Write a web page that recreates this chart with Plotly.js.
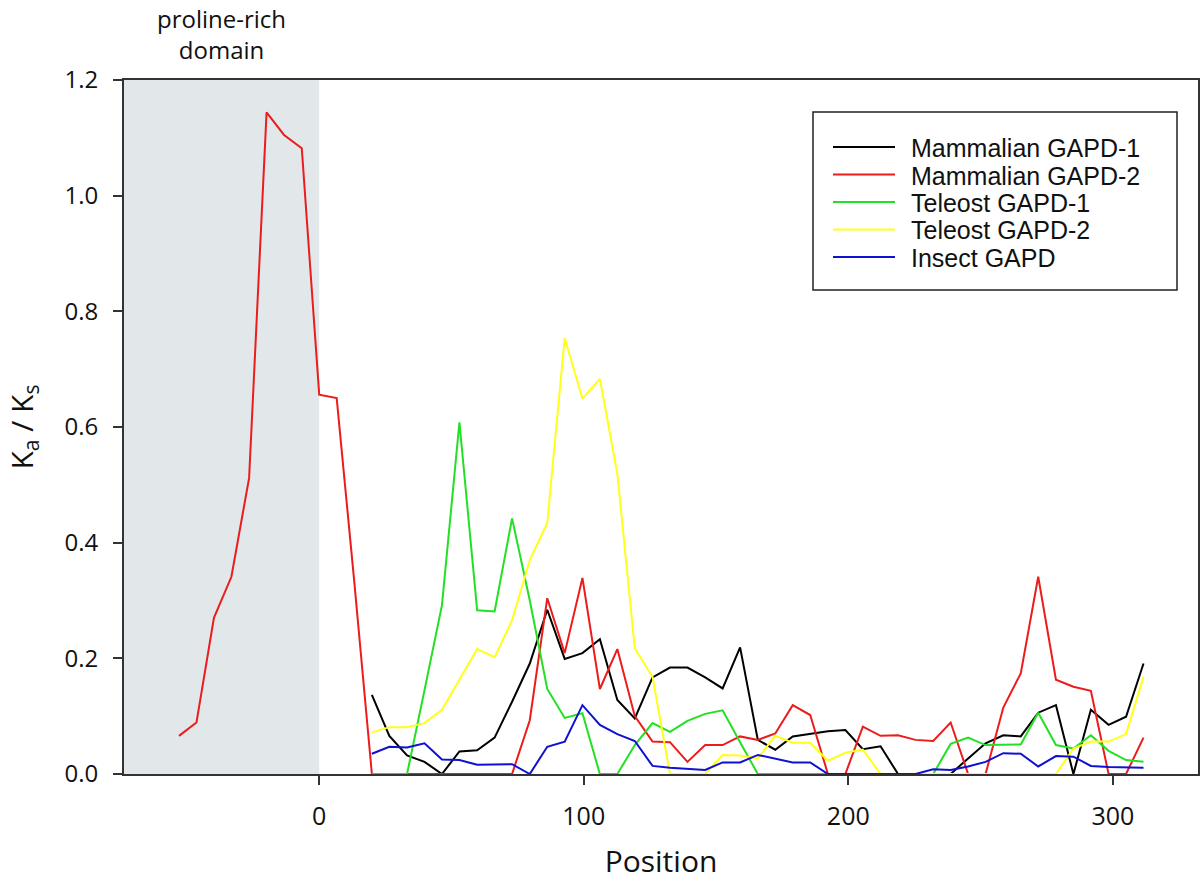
<!DOCTYPE html>
<html>
<head>
<meta charset="utf-8">
<script src="https://cdn.plot.ly/plotly-3.0.1.min.js"></script>
<style>body{margin:0;background:#fff}</style>
</head>
<body>
<div id="chart" style="width:1200px;height:890px"></div>
<script>
// window positions (the red series starts earlier than the others)
var positions = [-53.0, -46.4, -39.8, -33.2, -26.5, -19.9, -13.3, -6.6, 0, 6.6, 13.3,
  19.9, 26.5, 33.2, 39.8, 46.4, 53.0, 59.7, 66.3, 72.9, 79.6, 86.2, 92.8, 99.5, 106.1,
  112.7, 119.3, 126.0, 132.6, 139.2, 145.9, 152.5, 159.1, 165.8, 172.4, 179.0, 185.6,
  192.3, 198.9, 205.5, 212.2, 218.8, 225.4, 232.1, 238.7, 245.3, 251.9, 258.6, 265.2,
  271.8, 278.5, 285.1, 291.7, 298.4, 305.0, 311.6];

var mammalian2 = [0.066, 0.089, 0.27, 0.341, 0.512, 1.144, 1.105, 1.082, 0.656, 0.65, 0.33,
  0, 0, 0, 0, 0, 0, 0, 0, 0, 0.093, 0.304, 0.209, 0.339, 0.147, 0.216, 0.10,
  0.056, 0.055, 0.021, 0.050, 0.050, 0.065, 0.059, 0.070, 0.119, 0.102, 0, 0,
  0.082, 0.066, 0.067, 0.059, 0.057, 0.089, 0, 0, 0.115, 0.174, 0.341, 0.163,
  0.151, 0.144, 0, 0, 0.063];

// these four start at position 19.9
var mammalian1 = [0.137, 0.066, 0.032, 0.021, 0, 0.039, 0.041, 0.063, 0.125, 0.191, 0.284,
  0.199, 0.209, 0.233, 0.128, 0.096, 0.167, 0.184, 0.184, 0.167, 0.148, 0.219,
  0.059, 0.042, 0.065, 0.069, 0.074, 0.076, 0.043, 0.048, 0, 0, 0, 0,
  0.027, 0.053, 0.067, 0.065, 0.106, 0.119, 0, 0.111, 0.085, 0.099, 0.191];

var teleost1 = [0, 0, 0, 0.145, 0.292, 0.608, 0.283, 0.281, 0.442, 0.30, 0.147, 0.097, 0.105,
  0, 0, 0.05, 0.088, 0.073, 0.092, 0.104, 0.110, 0.055, 0,
  0, 0, 0, 0, 0, 0, 0, 0, 0, 0,
  0.052, 0.063, 0.050, 0.051, 0.051, 0.106, 0.050, 0.044, 0.067, 0.040, 0.024, 0.021];

var teleost2 = [0.072, 0.081, 0.081, 0.088, 0.111, 0.163, 0.216, 0.202, 0.266, 0.370,
  0.434, 0.754, 0.649, 0.683, 0.519, 0.217, 0.168, 0, 0, 0,
  0.033, 0.032, 0.027, 0.066, 0.054, 0.054, 0.023, 0.037, 0.042, 0,
  0, 0, 0, 0, 0, 0, 0, 0, 0, 0,
  0.044, 0.056, 0.056, 0.069, 0.168];

var insect = [0.035, 0.047, 0.046, 0.053, 0.025, 0.024, 0.016, 0.017, 0.017, 0, 0.047,
  0.056, 0.119, 0.085, 0.069, 0.057, 0.014, 0.011, 0.009, 0.007, 0.020, 0.020,
  0.033, 0.026, 0.020, 0.020, 0, 0, 0, 0, 0, 0,
  0.008, 0.007, 0.013, 0.021, 0.036, 0.035, 0.013, 0.031, 0.030, 0.014, 0.012, 0.011, 0.011];

var seriesNames = ['Mammalian GAPD-1', 'Mammalian GAPD-2', 'Teleost GAPD-1', 'Teleost GAPD-2', 'Insect GAPD'];
var seriesColors = ['#000000', '#ec1c1c', '#22e022', '#ffff1a', '#1010d0'];
var yTicks = [0, 0.2, 0.4, 0.6, 0.8, 1.0, 1.2];
var xTicks = [0, 100, 200, 300];

var mainPositions = positions.slice(11);
var seriesValues = [mammalian1, mammalian2, teleost1, teleost2, insect];
var seriesX = [mainPositions, positions, mainPositions, mainPositions, mainPositions];

var traces = seriesValues.map(function (vals, i) {
  return {
    x: seriesX[i], y: vals, type: 'scatter', mode: 'lines',
    name: seriesNames[i], showlegend: false,
    line: {color: seriesColors[i], width: 2}
  };
});

// plot frame in pixels, used to place the hand-drawn legend box
var W = 1200, H = 890;
var mL = 124, mR = 2, mT = 80, mB = 116;
function px(x) { return (x - mL) / (W - mL - mR); }
function py(y) { return (H - mB - y) / (H - mT - mB); }

var shapes = [{
  type: 'rect', xref: 'x', yref: 'y', x0: -73.8, x1: 0, y0: 0, y1: 1.2,
  fillcolor: '#e2e8ea', line: {width: 0}, layer: 'below'
}, {
  type: 'rect', xref: 'paper', yref: 'paper',
  x0: px(813), x1: px(1177), y0: py(290), y1: py(112),
  fillcolor: '#ffffff', line: {color: '#222', width: 1.5}
}];
var annotations = [{
  text: 'proline-rich<br>domain', xref: 'x', yref: 'paper', x: -36.9, y: 1, yshift: 12,
  xanchor: 'center', yanchor: 'bottom', showarrow: false,
  font: {family: 'Open Sans, sans-serif', size: 24, color: '#111'}
}];
seriesNames.forEach(function (name, i) {
  var rowY = 147 + i * 27.5;
  shapes.push({
    type: 'line', xref: 'paper', yref: 'paper',
    x0: px(833), x1: px(895), y0: py(rowY), y1: py(rowY),
    line: {color: seriesColors[i], width: 2}
  });
  annotations.push({
    text: name, xref: 'paper', yref: 'paper', x: px(909), y: py(rowY + 1),
    xanchor: 'left', yanchor: 'middle', showarrow: false,
    font: {family: 'Liberation Sans, Arial, sans-serif', size: 25, color: '#111'}
  });
});

var layout = {
  width: W, height: H,
  margin: {l: mL, r: mR, t: mT, b: mB},
  paper_bgcolor: '#fff', plot_bgcolor: '#fff',
  showlegend: false,
  font: {family: 'Open Sans, sans-serif', color: '#111'},
  xaxis: {
    range: [-73.8, 332.2], tickvals: xTicks, ticks: 'outside', ticklen: 9, tickwidth: 2,
    tickcolor: '#333', showline: true, mirror: true, linecolor: '#333', linewidth: 2,
    showgrid: false, zeroline: false, ticklabelstandoff: 10,
    tickfont: {size: 25},
    title: {text: 'Position', font: {size: 30}, standoff: 20}
  },
  yaxis: {
    range: [0, 1.2], tickvals: yTicks, tickformat: '.1f', ticks: 'outside', ticklen: 9,
    tickwidth: 2, tickcolor: '#333', showline: true, mirror: true, linecolor: '#333',
    linewidth: 2, showgrid: false, zeroline: false, ticklabelstandoff: 10,
    tickfont: {size: 24},
    title: {text: 'K<sub>a</sub> / K<sub>s</sub>', font: {size: 30}, standoff: 22}
  },
  shapes: shapes,
  annotations: annotations
};

Plotly.newPlot('chart', traces, layout, {displayModeBar: false});
</script>
</body>
</html>
